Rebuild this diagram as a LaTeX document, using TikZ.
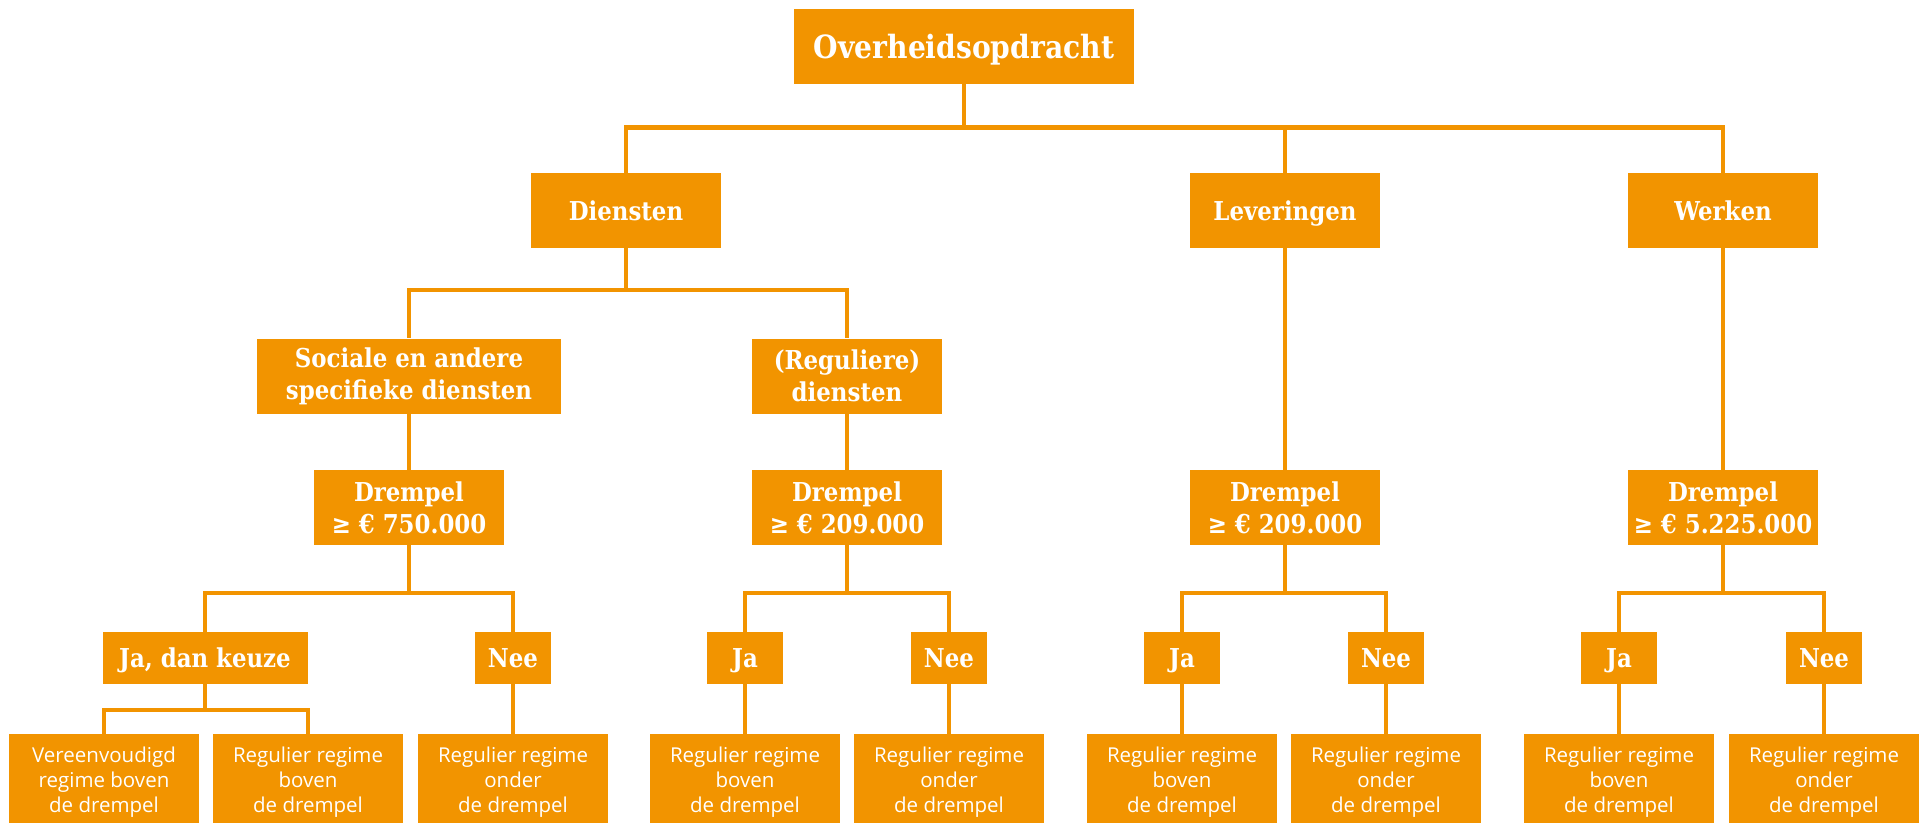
\documentclass[tikz,border=0pt]{standalone}
\usepackage{fontspec}
\setmainfont{Open Sans}
\newfontfamily\slabfont{DejaVu Serif}[FakeStretch=0.88]
\usetikzlibrary{positioning}
\definecolor{oranje}{RGB}{242,148,0}

\tikzset{
  box/.style={fill=oranje, text=white, align=center, inner sep=0pt,
    minimum width=190pt, minimum height=75pt,
    font=\slabfont\bfseries\fontsize{26}{32}\selectfont},
  enkel/.style={box, text height=20pt, text depth=0pt},
  keuze/.style={box, minimum width=76pt, minimum height=52pt,
    text height=19pt, text depth=0pt},
  uitkomst/.style={fill=oranje, text=white, align=center, inner sep=0pt,
    minimum width=190pt, minimum height=96pt,
    font=\fontsize{20.5}{25}\selectfont},
  link/.style={draw=oranje, line width=4.5pt}
}

\begin{document}
\begin{tikzpicture}[x=1pt,y=-1pt]
\clip (0,0) rectangle (1924,822);

% Top
\node[enkel, minimum width=340pt, text height=24pt, font=\slabfont\bfseries\fontsize{32}{38}\selectfont] (top) at (964,46) {Overheidsopdracht};

% Soorten opdrachten
\node[enkel] (diensten) at (626,210.5) {Diensten};
\node[enkel] (leveringen) at (1285,210.5) {Leveringen};
\node[enkel] (werken) at (1723,210.5) {Werken};

% Diensten
\node[box, minimum width=304pt] (sociaal) at (409,376) {Sociale en andere\\specifieke diensten};
\node[box] (regulier) at (847,376) {(Reguliere)\\diensten};

% Drempels
\node[box] (drempelA) at (409,507.5) {Drempel\\≥ € 750.000};
\node[box] (drempelB) at (847,507.5) {Drempel\\≥ € 209.000};
\node[box] (drempelC) at (1285,507.5) {Drempel\\≥ € 209.000};
\node[box] (drempelD) at (1723,507.5) {Drempel\\≥ € 5.225.000};

% Ja / Nee
\node[keuze, minimum width=205pt] (jaA) at (205,658) {Ja, dan keuze};
\node[keuze] (neeA) at (513,658) {Nee};
\node[keuze] (jaB) at (745,658) {Ja};
\node[keuze] (neeB) at (949,658) {Nee};
\node[keuze] (jaC) at (1182,658) {Ja};
\node[keuze] (neeC) at (1386,658) {Nee};
\node[keuze] (jaD) at (1619,658) {Ja};
\node[keuze] (neeD) at (1824,658) {Nee};

% Regimes
\node[uitkomst] (vereenv) at (104,782) {Vereenvoudigd\\regime boven\\de drempel};
\node[uitkomst] (regA) at (308,782) {Regulier regime\\boven\\de drempel};
\node[uitkomst] (regB) at (513,782) {Regulier regime\\onder\\de drempel};
\node[uitkomst] (regC) at (745,782) {Regulier regime\\boven\\de drempel};
\node[uitkomst] (regD) at (949,782) {Regulier regime\\onder\\de drempel};
\node[uitkomst] (regE) at (1182,782) {Regulier regime\\boven\\de drempel};
\node[uitkomst] (regF) at (1386,782) {Regulier regime\\onder\\de drempel};
\node[uitkomst] (regG) at (1619,782) {Regulier regime\\boven\\de drempel};
\node[uitkomst] (regH) at (1824,782) {Regulier regime\\onder\\de drempel};

% Lijnen
\draw[link] (top.south) -- ++(0,44) -| (diensten.north);
\draw[link] (top.south) -- ++(0,44) -| (leveringen.north);
\draw[link] (top.south) -- ++(0,44) -| (werken.north);

\draw[link] (diensten.south) -- ++(0,42) -| (sociaal.north);
\draw[link] (diensten.south) -- ++(0,42) -| (regulier.north);

\draw[link] (sociaal) -- (drempelA);
\draw[link] (regulier) -- (drempelB);
\draw[link] (leveringen) -- (drempelC);
\draw[link] (werken) -- (drempelD);

\draw[link] (drempelA.south) -- ++(0,48) -| (jaA.north);
\draw[link] (drempelA.south) -- ++(0,48) -| (neeA.north);
\draw[link] (drempelB.south) -- ++(0,48) -| (jaB.north);
\draw[link] (drempelB.south) -- ++(0,48) -| (neeB.north);
\draw[link] (drempelC.south) -- ++(0,48) -| (jaC.north);
\draw[link] (drempelC.south) -- ++(0,48) -| (neeC.north);
\draw[link] (drempelD.south) -- ++(0,48) -| (jaD.north);
\draw[link] (drempelD.south) -- ++(0,48) -| (neeD.north);

\draw[link] (jaA.south) -- ++(0,26) -| (vereenv.north);
\draw[link] (jaA.south) -- ++(0,26) -| (regA.north);
\draw[link] (neeA) -- (regB);
\draw[link] (jaB) -- (regC);
\draw[link] (neeB) -- (regD);
\draw[link] (jaC) -- (regE);
\draw[link] (neeC) -- (regF);
\draw[link] (jaD) -- (regG);
\draw[link] (neeD) -- (regH);

\end{tikzpicture}
\end{document}
